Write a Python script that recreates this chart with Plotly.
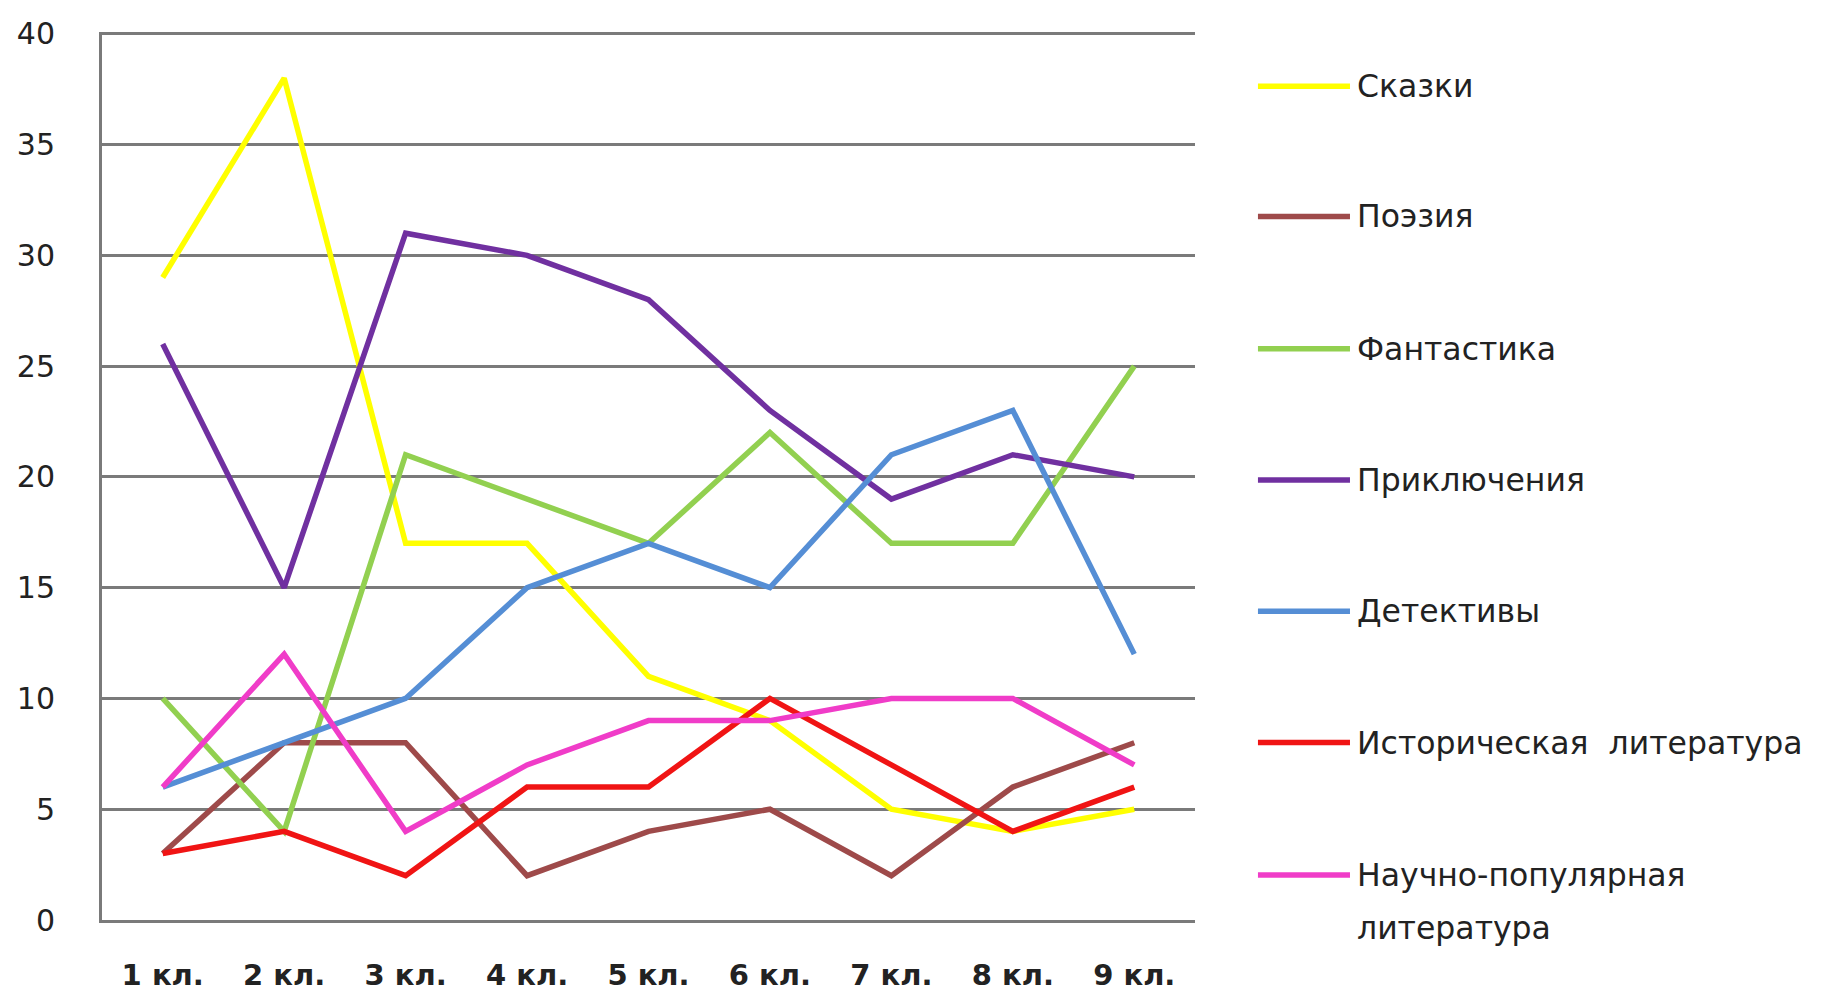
import plotly.graph_objects as go

# Grades (categories on the x axis)
grades = ["1 кл.", "2 кл.", "3 кл.", "4 кл.", "5 кл.", "6 кл.", "7 кл.", "8 кл.", "9 кл."]

# Number of pupils preferring each genre, by grade
skazki = [29, 38, 17, 17, 11, 9, 5, 4, 5]
poeziya = [3, 8, 8, 2, 4, 5, 2, 6, 8]
fantastika = [10, 4, 21, 19, 17, 22, 17, 17, 25]
priklyucheniya = [26, 15, 31, 30, 28, 23, 19, 21, 20]
detektivy = [6, 8, 10, 15, 17, 15, 21, 23, 12]
istoricheskaya = [3, 4, 2, 6, 6, 10, 7, 4, 6]
nauchno_pop = [6, 12, 4, 7, 9, 9, 10, 10, 7]

series_names = [
    "Сказки",
    "Поэзия",
    "Фантастика",
    "Приключения",
    "Детективы",
    "Историческая  литература",
    "Научно-популярная<br>литература",
]
series_values = [skazki, poeziya, fantastika, priklyucheniya, detektivy, istoricheskaya, nauchno_pop]
series_colors = ["#FFFF00", "#9E4A4A", "#92D050", "#7030A0", "#558ED5", "#F01414", "#F03CC8"]

y_ticks = [0, 5, 10, 15, 20, 25, 30, 35, 40]

FONT = "DejaVu Sans"

fig = go.Figure()
for name, vals, col in zip(series_names, series_values, series_colors):
    fig.add_trace(go.Scatter(
        x=list(range(len(grades))), y=vals, name=name.replace("<br>", " "),
        mode="lines", line=dict(color=col, width=5.5),
        showlegend=False, hoverinfo="skip",
    ))

# Legend on the right: a coloured line segment followed by the genre name
legend_y = [0.939, 0.7923, 0.6433, 0.4955, 0.3476, 0.1998, 0.0508]
x0, x1, xt = 1.0576, 1.1418, 1.1465
for name, col, yy in zip(series_names, series_colors, legend_y):
    fig.add_shape(type="line", xref="paper", yref="paper", x0=x0, x1=x1, y0=yy, y1=yy,
                  line=dict(color=col, width=5.5))
    lines = name.split("<br>")
    for i, ln in enumerate(lines):
        fig.add_annotation(xref="paper", yref="paper", x=xt, y=yy - i * 0.0598,
                           xanchor="left", yanchor="middle", text=ln, showarrow=False,
                           font=dict(family=FONT, size=31.5, color="#222222"))

fig.update_layout(
    width=1821, height=993,
    margin=dict(l=102, r=626, t=32, b=73),
    paper_bgcolor="white", plot_bgcolor="white",
    font=dict(family=FONT, color="#222222"),
)
fig.update_xaxes(
    range=[-0.5, len(grades) - 0.5],
    tickmode="array", tickvals=list(range(len(grades))), ticktext=grades,
    tickfont=dict(family=FONT, size=29, color="#222222", weight="bold"),
    showgrid=False, zeroline=False,
    showline=True, linecolor="#7a7a7a", linewidth=3,
    ticks="", ticklabelstandoff=27, automargin=False,
)
fig.update_yaxes(
    range=[0, 40.08], tickmode="array", tickvals=y_ticks,
    tickfont=dict(family=FONT, size=30, color="#222222"),
    showgrid=True, gridcolor="#7a7a7a", gridwidth=2.5,
    zeroline=False, showline=True, linecolor="#7a7a7a", linewidth=3,
    ticks="", ticklabelstandoff=38, automargin=False,
)

fig.write_html("out.html")
